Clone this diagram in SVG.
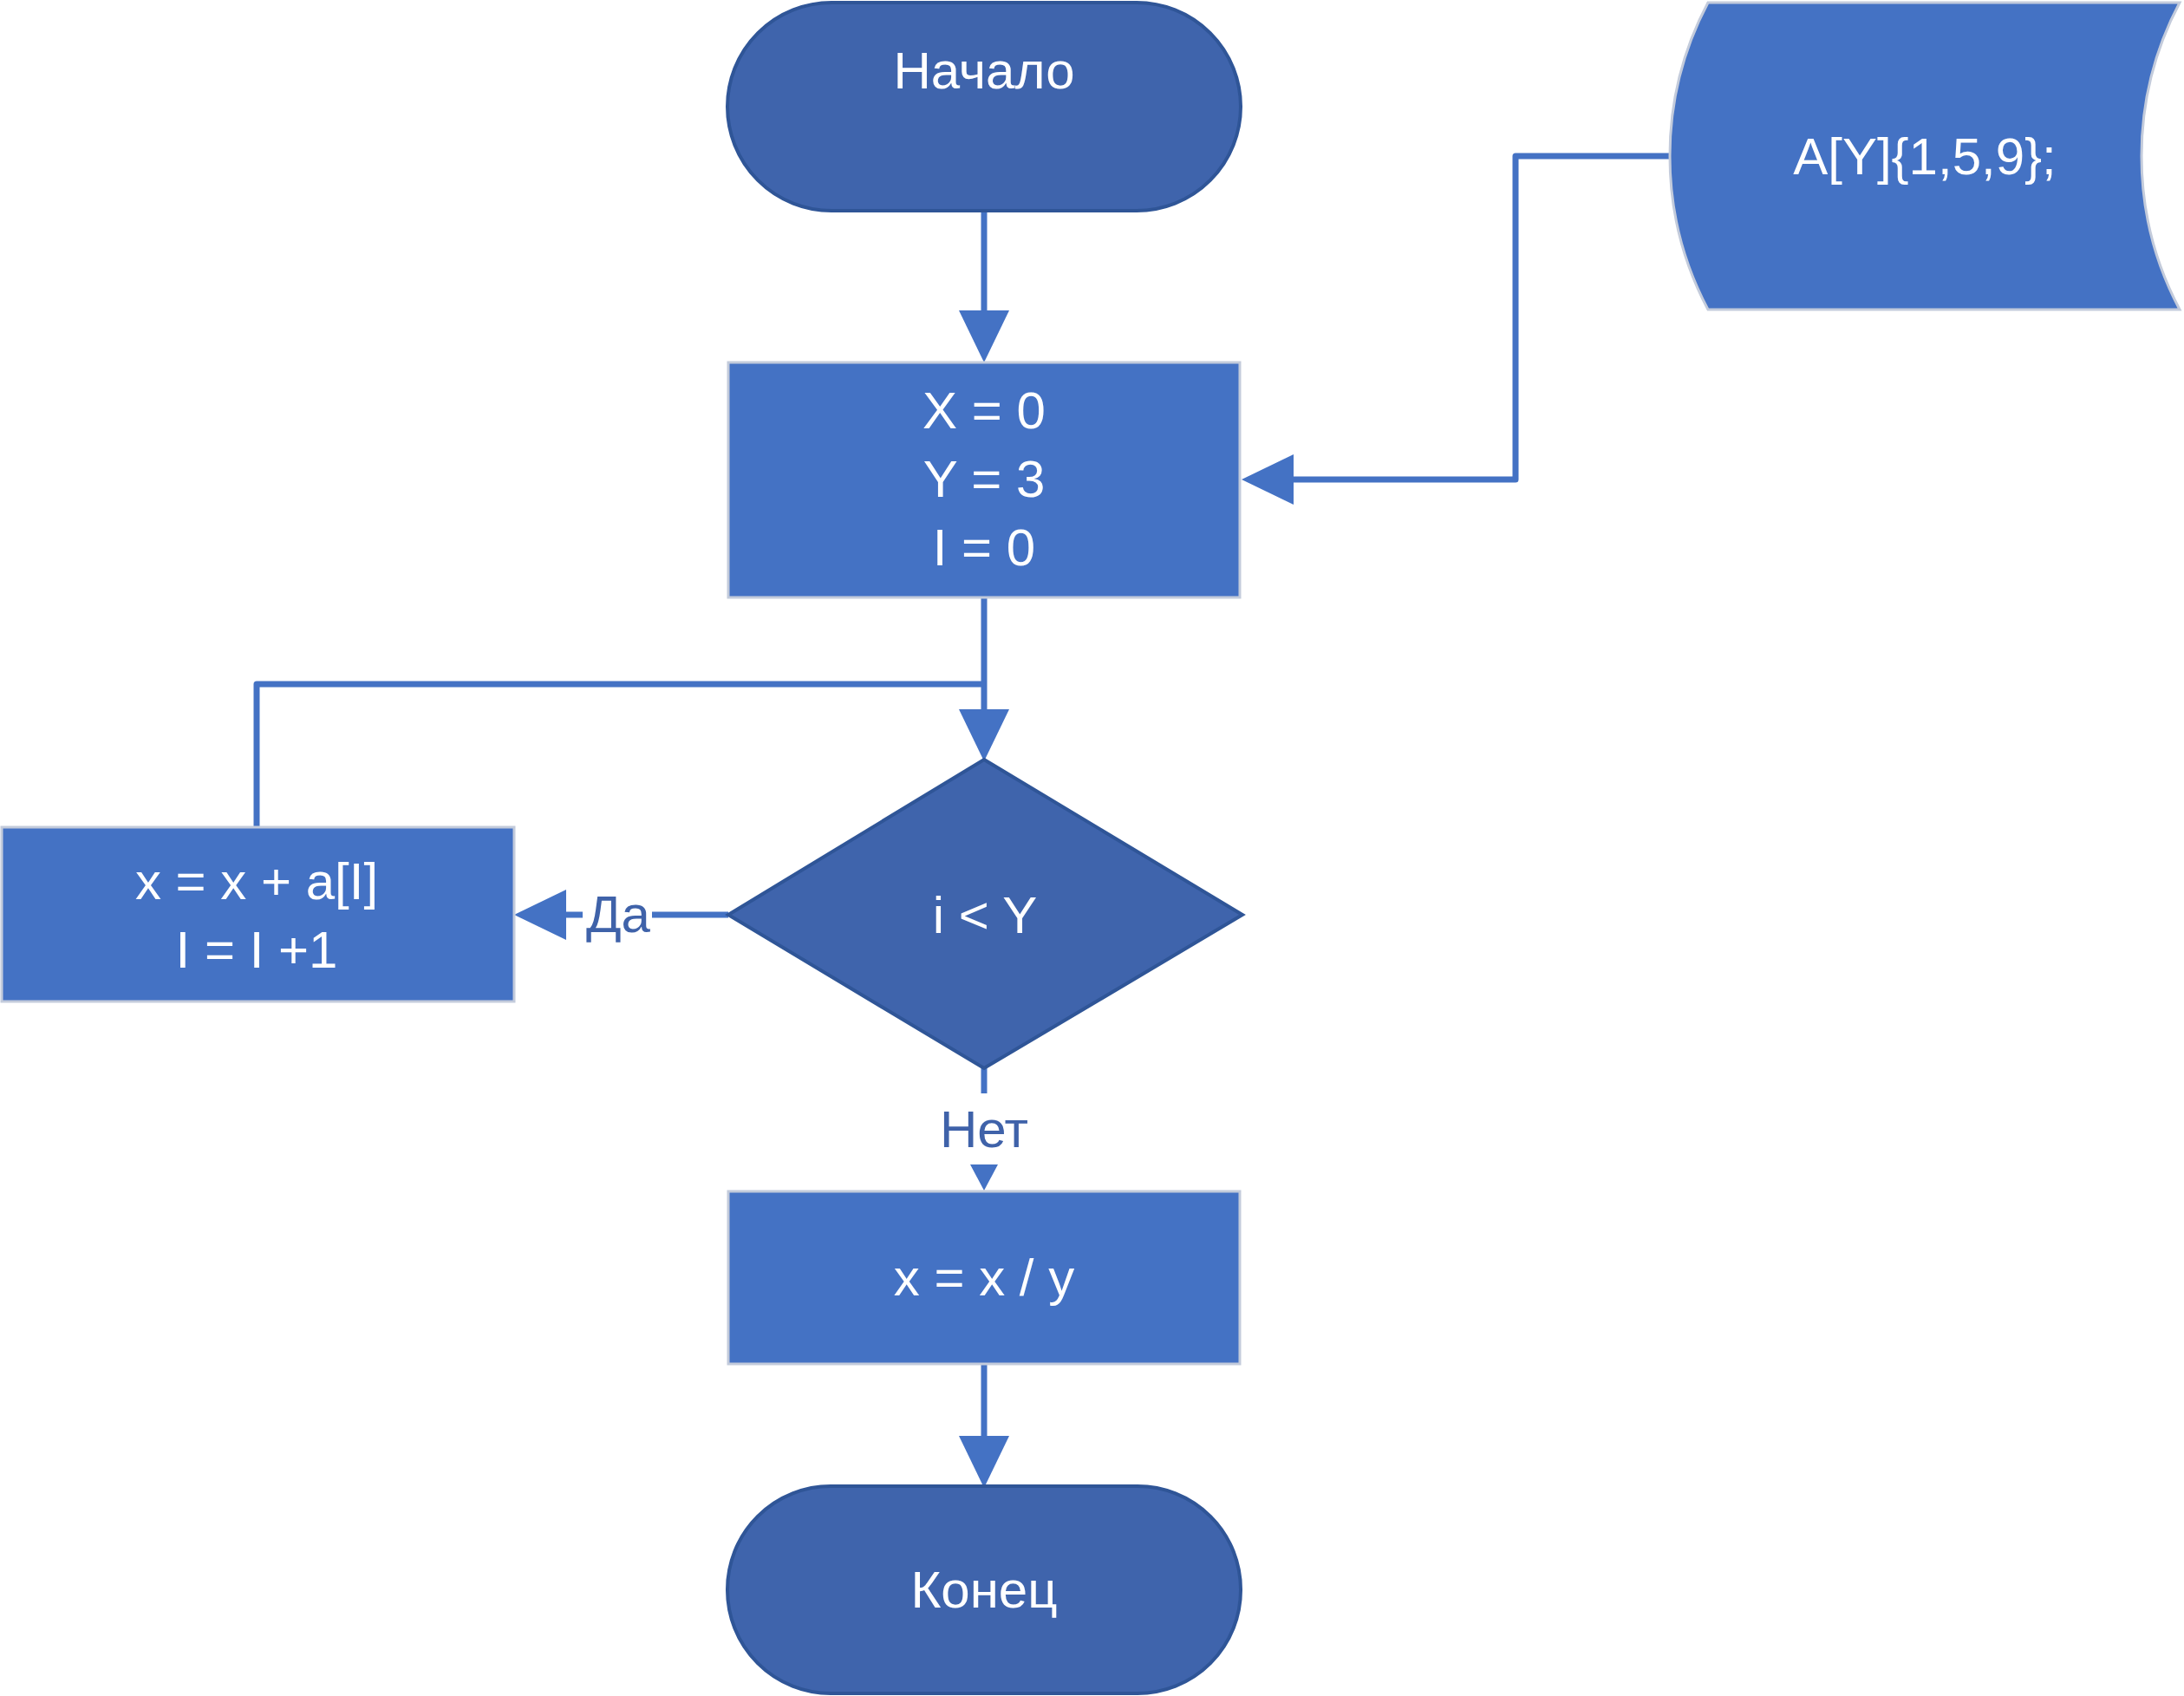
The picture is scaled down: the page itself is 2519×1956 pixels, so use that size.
<svg xmlns="http://www.w3.org/2000/svg" width="2519" height="1956" viewBox="0 0 2519 1956">
<defs>
<style>
.term{fill:#3F64AC;stroke:#2F5597;stroke-width:4}
.proc{fill:#4472C4;stroke:#C3CBDB;stroke-width:3}
.dec{fill:#3F64AC;stroke:#2F5597;stroke-width:4}
.t{font-family:"Liberation Sans",Arial,sans-serif;font-size:60px;fill:#FFFFFF;text-anchor:middle}
.lbl{font-family:"Liberation Sans",Arial,sans-serif;font-size:60px;fill:#3F62A9;text-anchor:middle}
.conn{fill:none;stroke:#4472C4;stroke-width:7;stroke-linejoin:round}
</style>
<marker id="big" markerUnits="userSpaceOnUse" viewBox="0 0 60 58" refX="1" refY="29" markerWidth="60" markerHeight="58" orient="auto">
<path d="M0,0 L60,29 L0,58 Z" fill="#4472C4"/>
</marker>
<marker id="small" markerUnits="userSpaceOnUse" viewBox="0 0 30 32" refX="1" refY="16" markerWidth="30" markerHeight="32" orient="auto">
<path d="M0,0 L30,16 L0,32 Z" fill="#4472C4"/>
</marker>
</defs>
<rect width="2519" height="1956" fill="#FFFFFF"/>
<g id="connectors">
<path class="conn" d="M1135,243 L1135,359" marker-end="url(#big)"/>
<path class="conn" d="M1926,180 L1748,180 L1748,553 L1491,553" marker-end="url(#big)"/>
<path class="conn" d="M1135,689 L1135,819" marker-end="url(#big)"/>
<path class="conn" d="M296,954 L296,789 L1135,789"/>
<path class="conn" d="M840,1055 L652,1055" marker-end="url(#big)"/>
<path class="conn" d="M1135,1232 L1135,1261"/>
<path class="conn" d="M1135,1343 L1135,1344" marker-end="url(#small)"/>
<rect x="672" y="1022" width="80" height="66" fill="#FFFFFF"/>
<text class="lbl" x="713" y="1075">Да</text>
<text class="lbl" x="1135" y="1323">Нет</text>
<path class="conn" d="M1135,1573 L1135,1657" marker-end="url(#big)"/>
</g>
<g id="start">
<rect class="term" x="839" y="3" width="592" height="240" rx="120" ry="120"/>
<text class="t" x="1135" y="102">Начало</text>
</g>
<g id="data">
<path class="proc" d="M1970,3 L2514,3 A378,378 0 0 0 2514,357 L1970,357 A378,378 0 0 1 1970,3 Z"/>
<text class="t" x="2220" y="201">A[Y]{1,5,9};</text>
</g>
<g id="init">
<rect class="proc" x="840" y="418" width="590" height="271"/>
<text class="t" x="1135" y="494">X = 0</text>
<text class="t" x="1135" y="573">Y = 3</text>
<text class="t" x="1135" y="652">I = 0</text>
</g>
<g id="cond">
<path class="dec" d="M1135,876 L1433,1055 L1135,1232 L840,1055 Z"/>
<text class="t" x="1136" y="1076">i &lt; Y</text>
</g>
<g id="sum">
<rect class="proc" x="2" y="954" width="591" height="201"/>
<text class="t" x="296" y="1037">x = x + a[I]</text>
<text class="t" x="296" y="1116">I = I +1</text>
</g>
<g id="divide">
<rect class="proc" x="840" y="1374" width="590" height="199"/>
<text class="t" x="1135" y="1494">x = x / y</text>
</g>
<g id="end">
<rect class="term" x="839" y="1714" width="592" height="239" rx="119" ry="119"/>
<text class="t" x="1135" y="1854">Конец</text>
</g>
</svg>
